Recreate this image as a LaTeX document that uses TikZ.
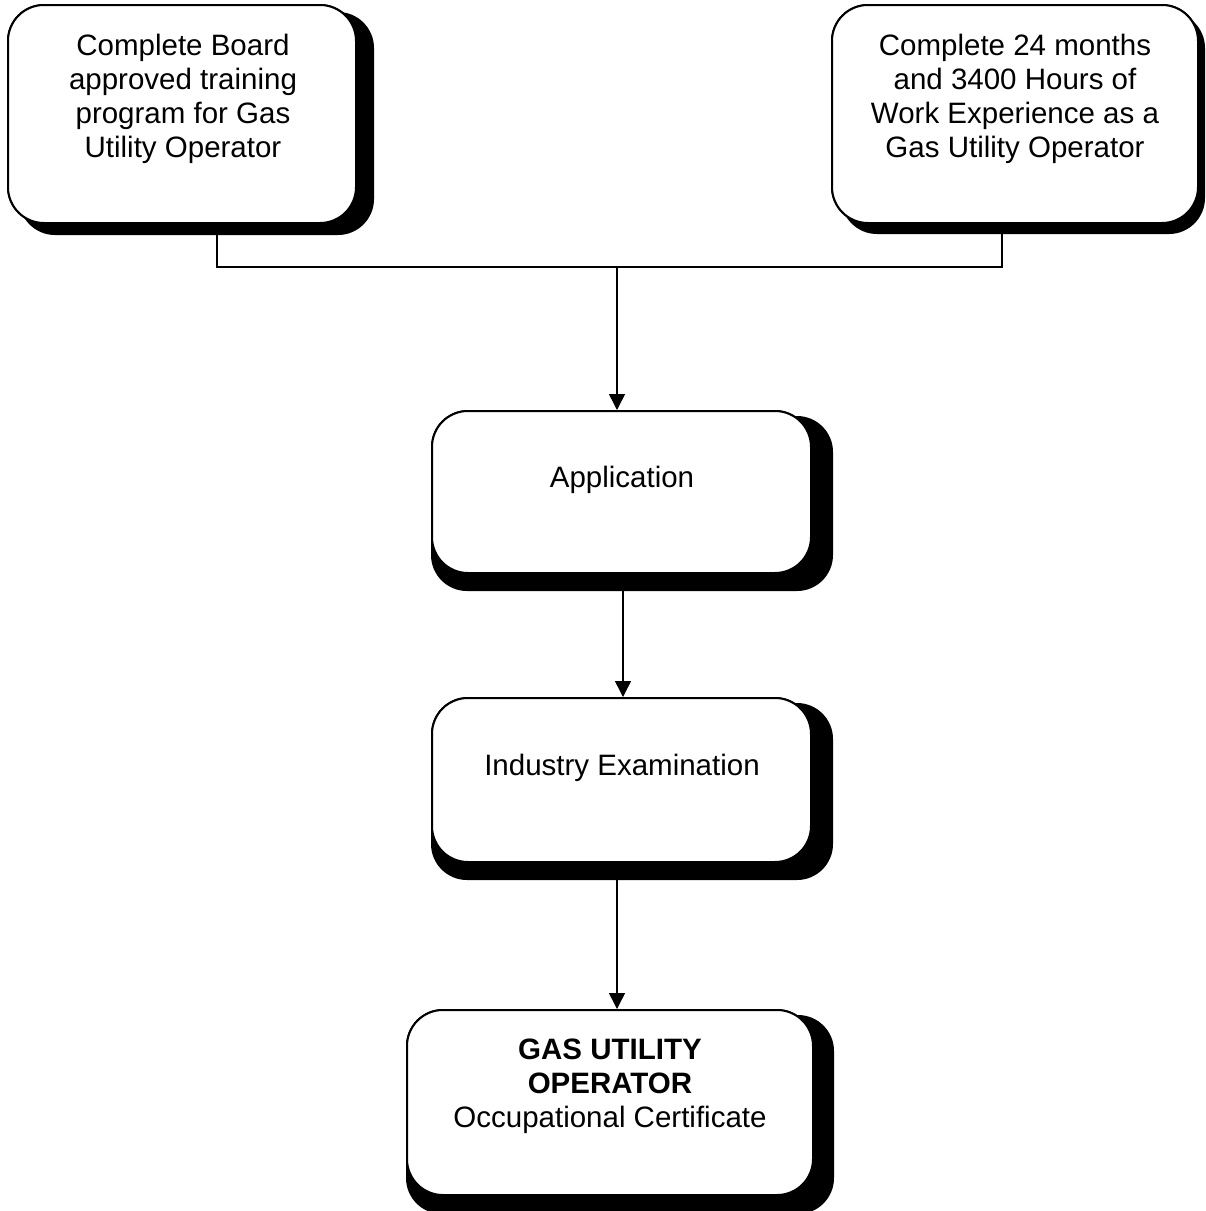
\documentclass[tikz,border=0pt]{standalone}
\usepackage{fontspec}
\setmainfont{Liberation Sans}
\usetikzlibrary{arrows.meta,calc}
\begin{document}
\begin{tikzpicture}[x=1pt,y=-1pt,
  box/.style={draw=black,line width=2pt,fill=white,rounded corners=36pt,rectangle,inner sep=0pt},
  txt/.style={align=center,inner sep=0pt,font=\fontsize{29.5}{34}\selectfont},
  conn/.style={draw=black,line width=1.5pt},
  arr/.style={conn,-{Triangle[length=16pt,width=16pt]}}
]
\useasboundingbox (0,0) rectangle (1206,1211);
% boxes (nodes)
\node[box,minimum width=348pt,minimum height=218pt] (b1) at (182,114) {};
\node[box,minimum width=366pt,minimum height=218pt] (b2) at (1015,114) {};
\node[box,minimum width=379pt,minimum height=162pt] (b3) at (621.5,492) {};
\node[box,minimum width=379pt,minimum height=164pt] (b4) at (621.5,780) {};
\node[box,minimum width=406pt,minimum height=185pt] (b5) at (610,1102.5) {};
% shadows
\newcommand{\myshadow}[5]{%
  \fill[black,rounded corners=36pt] ($(#1.north west)+(#2,#3)$) rectangle ($(#1.south east)+(#4,#5)$);}
\myshadow{b1}{12}{8}{17}{11}
\myshadow{b2}{10}{8}{6}{10}
\myshadow{b3}{0}{6}{21}{17}
\myshadow{b4}{0}{6}{21}{17}
\myshadow{b5}{0}{6}{20}{18}
% redraw boxes on top
\node[box,minimum width=348pt,minimum height=218pt] at (b1) {};
\node[box,minimum width=366pt,minimum height=218pt] at (b2) {};
\node[box,minimum width=379pt,minimum height=162pt] at (b3) {};
\node[box,minimum width=379pt,minimum height=164pt] at (b4) {};
\node[box,minimum width=406pt,minimum height=185pt] at (b5) {};
% texts
\node[txt] (t1) at (183,99) {Complete Board\\approved training\\program for Gas\\Utility Operator};
\node[txt] (t2) at (1015,99) {Complete 24 months\\and 3400 Hours of\\Work Experience as a\\Gas Utility Operator};
\node[txt] (t3) at (622,480) {Application};
\node[txt] (t4) at (622,768) {Industry Examination};
\node[txt] (t5) at (610,1086) {\textbf{GAS UTILITY}\\\textbf{OPERATOR}\\Occupational Certificate};
% connectors
\coordinate (j1) at (217,267);
\coordinate (j2) at (1002,267);
\coordinate (j) at (617,267);
\coordinate (k1) at (623,0);
\coordinate (k2) at (617,0);
\draw[conn] (j1 |- b1.south) -- (j1) -- (j2) -- (j2 |- b2.south);
\draw[arr] (j) -- (j |- b3.north);
\draw[arr] (k1 |- b3.south) -- (k1 |- b4.north);
\draw[arr] (k2 |- b4.south) -- (k2 |- b5.north);
\end{tikzpicture}
\end{document}
